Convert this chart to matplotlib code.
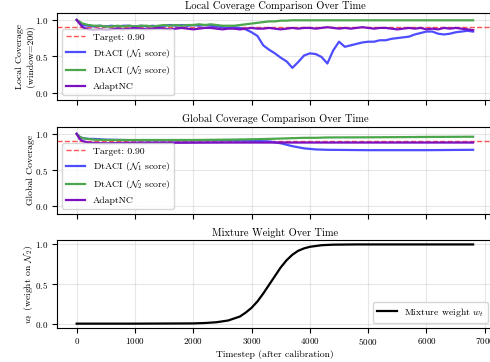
import numpy as np
import matplotlib
matplotlib.use("Agg")
import matplotlib.pyplot as plt

plt.rcParams["font.family"] = "serif"
plt.rcParams["font.serif"] = ["cmr10"]
plt.rcParams["mathtext.fontset"] = "cm"
plt.rcParams["axes.formatter.use_mathtext"] = True

# local coverage (window=200), one value every 100 timesteps
local_dtaci_n1 = [1.00, 0.93, 0.92, 0.91, 0.92, 0.91, 0.92, 0.91, 0.92, 0.92,
                  0.91, 0.92, 0.91, 0.92, 0.91, 0.92, 0.93, 0.92, 0.93, 0.92,
                  0.93, 0.92, 0.93, 0.92, 0.91, 0.90, 0.89, 0.90, 0.89, 0.87,
                  0.83, 0.78, 0.65, 0.59, 0.54, 0.48, 0.43, 0.34, 0.42, 0.51,
                  0.54, 0.53, 0.49, 0.40, 0.58, 0.70, 0.63, 0.65, 0.67, 0.69,
                  0.70, 0.70, 0.72, 0.72, 0.74, 0.75, 0.76, 0.77, 0.80, 0.82,
                  0.84, 0.84, 0.81, 0.80, 0.81, 0.83, 0.84, 0.85, 0.84]
local_dtaci_n2 = [1.00, 0.95, 0.93, 0.92, 0.92, 0.91, 0.91, 0.92, 0.91, 0.92,
                  0.91, 0.92, 0.92, 0.91, 0.92, 0.93, 0.92, 0.93, 0.92, 0.93,
                  0.93, 0.94, 0.93, 0.94, 0.93, 0.92, 0.92, 0.92, 0.93, 0.94,
                  0.95, 0.96, 0.97, 0.98, 0.98, 0.99, 0.99, 0.995, 0.995, 0.995,
                  0.995, 0.995, 0.995, 0.995, 0.995, 0.995, 0.995, 0.995, 0.995, 0.995,
                  0.995, 0.995, 0.995, 0.995, 0.995, 0.995, 0.995, 0.995, 0.995, 0.995,
                  0.995, 0.995, 0.995, 0.995, 0.995, 0.995, 0.995, 0.995, 0.995]
local_adaptnc = [1.00, 0.90, 0.87, 0.86, 0.87, 0.86, 0.87, 0.88, 0.87, 0.88,
                 0.89, 0.88, 0.87, 0.88, 0.89, 0.88, 0.87, 0.88, 0.89, 0.88,
                 0.87, 0.88, 0.89, 0.89, 0.88, 0.87, 0.88, 0.88, 0.87, 0.88,
                 0.89, 0.88, 0.88, 0.89, 0.88, 0.87, 0.88, 0.89, 0.88, 0.89,
                 0.89, 0.88, 0.89, 0.90, 0.89, 0.88, 0.89, 0.88, 0.89, 0.90,
                 0.89, 0.88, 0.89, 0.89, 0.88, 0.87, 0.88, 0.89, 0.88, 0.89,
                 0.87, 0.88, 0.87, 0.89, 0.88, 0.89, 0.88, 0.87, 0.86]

# global (cumulative) coverage
global_t = [0, 50, 100, 200, 300, 500, 800, 1200, 2000, 2600, 3000, 3300, 3500,
            3700, 3900, 4100, 4300, 5000, 6000, 6800]
global_dtaci_n1 = [1.00, 0.96, 0.94, 0.93, 0.93, 0.92, 0.915, 0.91, 0.91, 0.91,
                   0.905, 0.895, 0.87, 0.83, 0.80, 0.785, 0.78, 0.775, 0.775, 0.78]
global_dtaci_n2 = [1.00, 0.96, 0.94, 0.93, 0.92, 0.915, 0.915, 0.915, 0.915, 0.92,
                   0.925, 0.93, 0.935, 0.94, 0.945, 0.945, 0.95, 0.952, 0.957, 0.96]
global_adaptnc = [1.00, 0.93, 0.90, 0.88, 0.875, 0.87, 0.875, 0.875, 0.878, 0.88,
                  0.88, 0.88, 0.88, 0.88, 0.88, 0.88, 0.88, 0.88, 0.88, 0.88]

# mixture weight w_t
weight_t = [0, 1000, 2000, 2200, 2400, 2600, 2800, 2900, 3000, 3100, 3200, 3300,
            3400, 3500, 3600, 3700, 3800, 3900, 4000, 4200, 4400, 4800, 5500, 6800]
weight_w = [0.0, 0.0, 0.003, 0.008, 0.018, 0.04, 0.09, 0.14, 0.20, 0.28, 0.38, 0.49,
            0.60, 0.71, 0.80, 0.87, 0.92, 0.95, 0.97, 0.99, 0.997, 1.0, 1.0, 1.0]

target = 0.90

local_t = np.arange(len(local_dtaci_n1)) * 100

c_blue = "#4d4dff"
c_green = "#4ca64c"
c_purple = "#7a10c0"
c_red = "#ff5555"

fig, axes = plt.subplots(3, 1, figsize=(4.9, 3.62), dpi=100, sharex=True)
fig.subplots_adjust(left=0.116, right=1.006, top=0.965, bottom=0.095, hspace=0.307)

ax = axes[0]
ax.axhline(target, color=c_red, ls="--", lw=1.0, label="Target: 0.90")
ax.plot(local_t, local_dtaci_n1, color=c_blue, lw=1.6, label=r"DtACI ($\mathcal{N}_1$ score)")
ax.plot(local_t, local_dtaci_n2, color=c_green, lw=1.6, label=r"DtACI ($\mathcal{N}_2$ score)")
ax.plot(local_t, local_adaptnc, color=c_purple, lw=1.6, label="AdaptNC")
ax.set_ylim(-0.1, 1.1)
ax.set_ylabel("Local Coverage\n(window=200)", fontsize=7, labelpad=0.5)
ax.set_title("Local Coverage Comparison Over Time", fontsize=7.5, pad=3)
ax.legend(loc="lower left", fontsize=7)

ax = axes[1]
ax.axhline(target, color=c_red, ls="--", lw=1.0, label="Target: 0.90")
ax.plot(global_t, global_dtaci_n1, color=c_blue, lw=1.6, label=r"DtACI ($\mathcal{N}_1$ score)")
ax.plot(global_t, global_dtaci_n2, color=c_green, lw=1.6, label=r"DtACI ($\mathcal{N}_2$ score)")
ax.plot(global_t, global_adaptnc, color=c_purple, lw=1.6, label="AdaptNC")
ax.set_ylim(-0.1, 1.1)
ax.set_ylabel("Global Coverage", fontsize=7, labelpad=0.5)
ax.set_title("Global Coverage Comparison Over Time", fontsize=7.5, pad=3)
ax.legend(loc="lower left", fontsize=7)

ax = axes[2]
ax.plot(weight_t, weight_w, color="black", lw=1.6, label=r"Mixture weight $w_t$")
ax.set_ylim(-0.05, 1.05)
ax.set_ylabel(r"$w_t$ (weight on $\mathcal{N}_2$)", fontsize=7, labelpad=0.5)
ax.set_xlabel("Timestep (after calibration)", fontsize=7, labelpad=2)
ax.set_title("Mixture Weight Over Time", fontsize=7.5, pad=3)
ax.legend(loc="lower right", fontsize=7)

for ax in axes:
    ax.grid(True, alpha=0.3)
    ax.tick_params(labelsize=6.5, pad=2.5)
    ax.set_yticks([0.0, 0.5, 1.0])

fig.savefig("out.png", dpi=100)
